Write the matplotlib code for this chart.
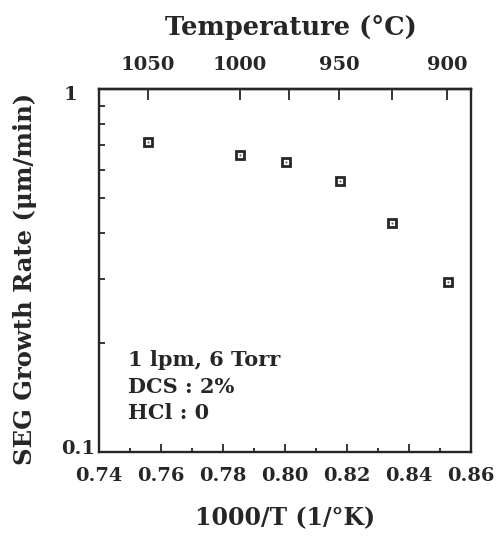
import matplotlib
matplotlib.use("Agg")
import matplotlib.pyplot as plt
from matplotlib.ticker import FixedLocator, NullFormatter, FixedFormatter

inv_T = [0.7559, 0.7856, 0.8004, 0.8177, 0.8346, 0.8526]
rate = [0.713, 0.658, 0.630, 0.559, 0.428, 0.294]
x_ticks = [0.74, 0.76, 0.78, 0.80, 0.82, 0.84, 0.86]
x_tick_labels = ["0.74", "0.76", "0.78", "0.80", "0.82", "0.84", "0.86"]
y_ticks = [0.1, 1]
y_tick_labels = ["0.1", "1"]
temp_ticks = [1050, 1000, 975, 950, 925, 900]
temp_labels = ["1050", "1000", "", "950", "", "900"]
note_lines = ["1 lpm, 6 Torr", "DCS : 2%", "HCl : 0"]

plt.rcParams['font.family'] = ['DejaVu Serif']
plt.rcParams['font.weight'] = 'bold'
INK = '#262626'

W, H = 499, 541
fig = plt.figure(figsize=(W / 100, H / 100), dpi=100)
ax = fig.add_axes([99 / W, 1 - 452 / H, 372 / W, 363 / H])

ax.plot(inv_T, rate, linestyle='none', marker='s', ms=6.2, mfc='white',
        mec=INK, mew=2.0)
ax.plot(inv_T, rate, linestyle='none', marker='s', ms=1.3, mfc='#555555',
        mec='#555555', mew=0)

ax.set_xlim(0.74, 0.86)
ax.set_yscale('log')
ax.set_ylim(0.1, 1)

for s in ax.spines.values():
    s.set_linewidth(1.7)
    s.set_color(INK)

ax.xaxis.set_major_locator(FixedLocator(x_ticks))
ax.xaxis.set_major_formatter(FixedFormatter(x_tick_labels))
ax.xaxis.set_minor_locator(FixedLocator([0.75, 0.77, 0.79, 0.81, 0.83, 0.85]))
ax.tick_params(axis='x', which='major', direction='in', length=6, width=1.3,
               labelsize=14, pad=11, top=False, colors=INK)
ax.tick_params(axis='x', which='minor', direction='in', length=3, width=1.3,
               top=False, colors=INK)
ax.yaxis.set_major_locator(FixedLocator(y_ticks))
ax.yaxis.set_major_formatter(NullFormatter())
ax.yaxis.set_minor_locator(FixedLocator([0.2, 0.3, 0.4, 0.5, 0.6, 0.7, 0.8, 0.9]))
ax.yaxis.set_minor_formatter(NullFormatter())
ax.tick_params(axis='y', which='both', direction='in', length=4, width=1.3,
               right=False, colors=INK)

# y tick labels (placed as in the original figure)
fig.text(95 / W, 1 - 449 / H, y_tick_labels[0], ha='right', va='center',
         fontsize=14, fontweight='bold', color=INK)
fig.text(77 / W, 1 - 95 / H, y_tick_labels[1], ha='right', va='center',
         fontsize=14, fontweight='bold', color=INK)

sec = ax.secondary_xaxis('top', functions=(lambda x: 1000.0 / x - 273.15,
                                            lambda t: 1000.0 / (t + 273.15)))
sec.xaxis.set_major_locator(FixedLocator(temp_ticks))
sec.xaxis.set_major_formatter(FixedFormatter(temp_labels))
sec.xaxis.set_minor_locator(FixedLocator([]))
sec.tick_params(axis='x', direction='in', length=8, width=1.3, labelsize=14,
                pad=11, colors=INK)
sec.spines['top'].set_linewidth(1.7)
sec.spines['top'].set_color(INK)

fig.text(291 / W, 1 - 27 / H, "Temperature (°C)", ha='center', va='center',
         fontsize=18.5, fontweight='bold', color=INK)
fig.text(285 / W, 1 - 518 / H, "1000/T (1/°K)", ha='center', va='center',
         fontsize=17, fontweight='bold', color=INK)
fig.text(25 / W, 1 - 279 / H, "SEG Growth Rate (μm/min)", ha='center',
         va='center', rotation=90, fontsize=17.5, fontweight='bold', color=INK)

for i, line in enumerate(note_lines):
    ax.text(0.078, 0.253 - i * 0.073, line, transform=ax.transAxes,
            fontsize=15, fontweight='bold', va='center', ha='left',
            color=INK)

fig.savefig("out.png", dpi=100)
